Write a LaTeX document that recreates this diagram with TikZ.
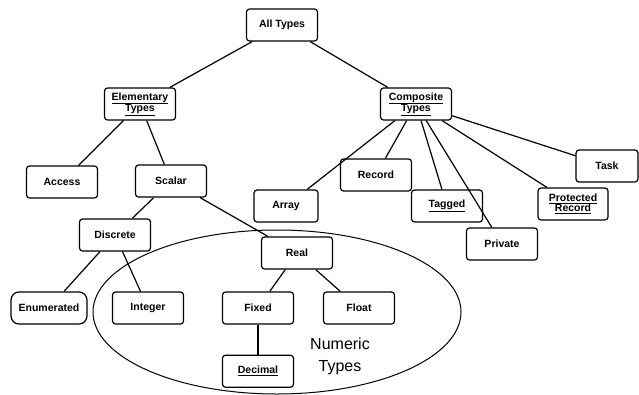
\documentclass[tikz,border=0pt]{standalone}
\usepackage{fontspec}
\setmainfont{Liberation Sans}
\usepackage{tikz}
\usetikzlibrary{positioning}

\begin{document}
\begin{tikzpicture}[x=1pt,y=-1pt,line width=1.2pt,type/.style={draw, rectangle, rounded corners=3pt, minimum height=32pt, minimum width=71pt, inner sep=1pt, align=center, fill=white, font=\fontsize{10.5}{11}\selectfont\bfseries},link/.style={line width=1.2pt}]
  \useasboundingbox (0,0) rectangle (639,394);
  % numeric types region
  \draw[line width=1pt] (277,312) ellipse [x radius=184, y radius=82];
  \node[font=\fontsize{16}{22}\selectfont, align=center] (numlbl) at (340,356) {Numeric\\Types};
  \node[type] (all) at (282,25) {All Types};
  \node[type] (elem) at (140,104) {\underline{Elementary}\\[-1pt]\underline{Types}};
  \node[type] (comp) at (416,104) {\underline{Composite}\\[-1pt]\underline{Types}};
  \node[type] (access) at (62,182) {Access};
  \node[type] (scalar) at (171,181) {Scalar};
  \node[type, minimum width=64pt] (array) at (286,206) {Array};
  \node[type] (record) at (376,175) {Record};
  \node[type] (tagged) at (447,206) {\underline{Tagged}};
  \node[type] (private) at (502,244) {Private};
  \node[type, minimum width=70pt] (prot) at (573,204) {\underline{Protected}\\[-1pt]\underline{Record}};
  \node[type, minimum width=62pt] (task) at (607,166) {Task};
  \node[type] (discrete) at (115,235) {Discrete};
  \node[type] (real) at (297,253) {Real};
  \node[type, rounded corners=8pt, minimum width=76pt] (enum) at (49,308) {Enumerated};
  \node[type] (integer) at (148,308) {Integer};
  \node[type] (fixed) at (258,308) {Fixed};
  \node[type] (float) at (359,308) {Float};
  \node[type, below=30pt of fixed] (decimal) {\underline{Decimal}};
  \draw[link] (all) -- (elem);
  \draw[link] (all) -- (comp);
  \draw[link] (elem) -- (access);
  \draw[link] (elem) -- (scalar);
  \draw[link] (comp) -- (array);
  \draw[link] (comp) -- (record);
  \draw[link] (comp) -- (tagged);
  \draw[link] (comp) -- (private);
  \draw[link] (comp) -- (prot);
  \draw[link] (comp) -- (task);
  \draw[link] (scalar) -- (discrete);
  \draw[link] (scalar) -- (real);
  \draw[link] (discrete) -- (enum);
  \draw[link] (discrete) -- (integer);
  \draw[link] (real) -- (fixed);
  \draw[link] (real) -- (float);
  \draw[link] (fixed) -- (decimal);
\end{tikzpicture}
\end{document}
